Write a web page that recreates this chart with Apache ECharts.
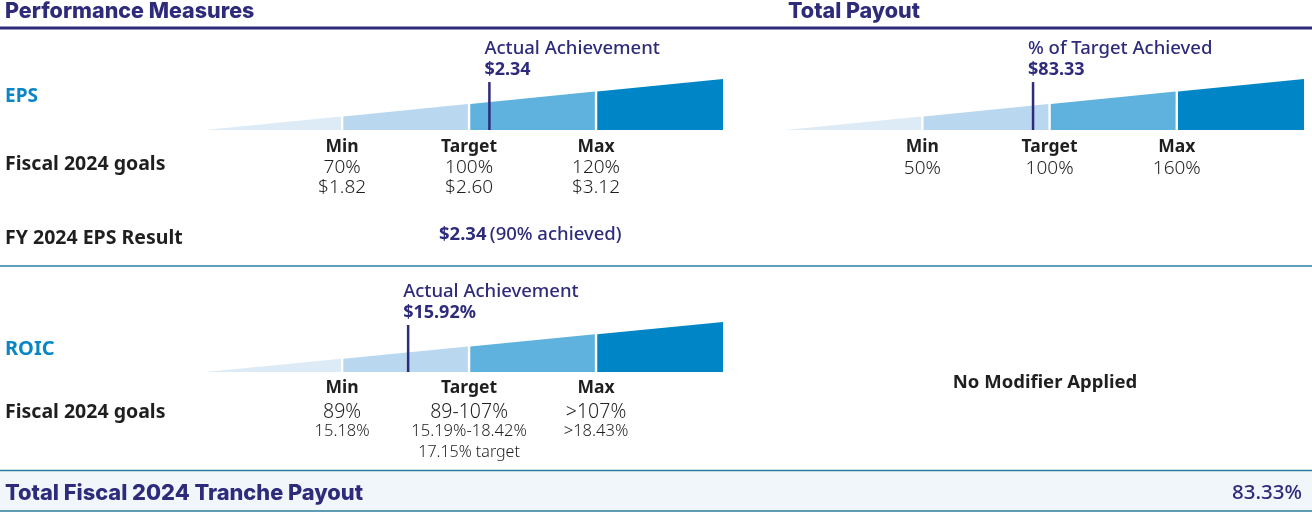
<!DOCTYPE html>
<html>
<head>
<meta charset="utf-8">
<script src="https://cdn.jsdelivr.net/npm/echarts@6/dist/echarts.min.js"></script>
<style>
html, body { margin: 0; padding: 0; background: #fff; }
#chart { width: 1312px; height: 514px; }
</style>
</head>
<body>
<div id="chart"></div>
<script>
// tiers on the scale: Min = 1, Target = 2, Max = 3
const tierNames = ['Min', 'Target', 'Max'];
const tierEdges = [-0.08, 1, 2, 3, 4];

// EPS
const epsPct = ['70%', '100%', '120%'];
const epsValue = ['$1.82', '$2.60', '$3.12'];
const epsActualPos = 2.16;
const epsActualLabel = '$2.34';
const epsResult = '$2.34';
const epsResultNote = '(90% achieved)';

// Total payout
const payoutPct = ['50%', '100%', '160%'];
const payoutActualPos = 1.87;
const payoutActualLabel = '$83.33';

// ROIC
const roicPct = ['89%', '89-107%', '>107%'];
const roicRange = ['15.18%', '15.19%-18.42%', '>18.43%'];
const roicNote = ['', '17.15% target', ''];
const roicActualPos = 1.52;
const roicActualLabel = '$15.92%';

const totalPayout = '83.33%';

const NAVY = '#2E2B7B';
const BLUE = '#0A86C4';
const INK = '#1F1F1F';
const RULE = '#2B7C9E';
const bandColors = ['#DDEBF7', '#B9D8EF', '#5FB1DE', '#0086C6'];
const HEAD = 'Inter';
const BODY = 'Noto Sans';

const chart = echarts.init(document.getElementById('chart'));

function txt(text, x, y, size, weight, color, align, family) {
	return {
		type: 'text',
		style: {
			text: text, x: x, y: y,
			fontSize: size, fontWeight: weight, fontFamily: family || BODY,
			fill: color,
			align: align || 'left', textAlign: align || 'left',
			verticalAlign: 'middle', textVerticalAlign: 'middle'
		}
	};
}

// 楔形分段
function renderBand(params, api) {
	const a = api.value(0), b = api.value(1), i = api.value(2);
	const span = tierEdges[tierEdges.length - 1] - tierEdges[0];
	const ha = (a - tierEdges[0]) / span;
	const hb = (b - tierEdges[0]) / span;
	const p = [api.coord([a, 0]), api.coord([a, ha]), api.coord([b, hb]), api.coord([b, 0])];
	const gl = i > 0 ? 1.2 : 0;
	const gr = i < bandColors.length - 1 ? 1.2 : 0;
	p[0][0] += gl; p[1][0] += gl; p[2][0] -= gr; p[3][0] -= gr;
	return { type: 'polygon', shape: { points: p }, style: { fill: bandColors[i] } };
}

function makeMarker(title, value) {
	return function (params, api) {
		const base = api.coord([api.value(0), 0]);
		const top = api.coord([api.value(0), 0.94]);
		return {
			type: 'group',
			children: [
				{ type: 'line', shape: { x1: base[0], y1: base[1], x2: top[0], y2: top[1] }, style: { stroke: NAVY, lineWidth: 2.5 } },
				txt(title, base[0] - 5, top[1] - 33, 18.5, 500, NAVY),
				txt(value, base[0] - 5, top[1] - 12, 18, 'bold', NAVY)
			]
		};
	};
}

// lines: [array, size, weight, offset]
function makeTierLabels(lines) {
	return function (params, api) {
		const i = api.value(1);
		const pt = api.coord([api.value(0), 0]);
		const children = [];
		lines.forEach(function (l) {
			const t = l[0][i];
			if (t) children.push(txt(t, pt[0], pt[1] + l[3], l[1], l[2], INK, 'center'));
		});
		return { type: 'group', children: children };
	};
}

const bandData = bandColors.map(function (c, i) { return [tierEdges[i], tierEdges[i + 1], i]; });
const tierData = tierNames.map(function (n, i) { return [i + 1, i]; });

const grids = [
	{ left: 205, top: 79, width: 518, height: 51 },
	{ left: 785, top: 79, width: 519, height: 51 },
	{ left: 205, top: 322, width: 518, height: 50 }
];

const option = {
	animation: false,
	grid: grids,
	xAxis: grids.map(function (g, i) { return { gridIndex: i, type: 'value', min: tierEdges[0], max: tierEdges[4], show: false }; }),
	yAxis: grids.map(function (g, i) { return { gridIndex: i, type: 'value', min: 0, max: 1, show: false }; }),
	series: [
		{ type: 'custom', xAxisIndex: 0, yAxisIndex: 0, renderItem: renderBand, data: bandData, silent: true },
		{ type: 'custom', xAxisIndex: 1, yAxisIndex: 1, renderItem: renderBand, data: bandData, silent: true },
		{ type: 'custom', xAxisIndex: 2, yAxisIndex: 2, renderItem: renderBand, data: bandData, silent: true },
		{ type: 'custom', xAxisIndex: 0, yAxisIndex: 0, renderItem: makeMarker('Actual Achievement', epsActualLabel), data: [[epsActualPos]], silent: true, z: 5 },
		{ type: 'custom', xAxisIndex: 1, yAxisIndex: 1, renderItem: makeMarker('% of Target Achieved', payoutActualLabel), data: [[payoutActualPos]], silent: true, z: 5 },
		{ type: 'custom', xAxisIndex: 2, yAxisIndex: 2, renderItem: makeMarker('Actual Achievement', roicActualLabel), data: [[roicActualPos]], silent: true, z: 5 },
		{
			type: 'custom', xAxisIndex: 0, yAxisIndex: 0, data: tierData, silent: true,
			renderItem: makeTierLabels([[tierNames, 17.5, 'bold', 17], [epsPct, 19, 300, 38], [epsValue, 19, 300, 58]])
		},
		{
			type: 'custom', xAxisIndex: 1, yAxisIndex: 1, data: tierData, silent: true,
			renderItem: makeTierLabels([[tierNames, 17.5, 'bold', 17], [payoutPct, 19, 300, 39]])
		},
		{
			type: 'custom', xAxisIndex: 2, yAxisIndex: 2, data: tierData, silent: true,
			renderItem: makeTierLabels([[tierNames, 17.5, 'bold', 16], [roicPct, 19.5, 300, 40], [roicRange, 16.5, 300, 59], [roicNote, 16, 300, 80]])
		}
	],
	graphic: [
		{ type: 'rect', shape: { x: 0, y: 471, width: 1312, height: 40 }, style: { fill: '#F1F6FB' }, z: -1 },
		{ type: 'line', shape: { x1: 0, y1: 28, x2: 1312, y2: 28 }, style: { stroke: NAVY, lineWidth: 3 } },
		{ type: 'line', shape: { x1: 0, y1: 266, x2: 1312, y2: 266 }, style: { stroke: RULE, lineWidth: 1.5 } },
		{ type: 'line', shape: { x1: 0, y1: 470.5, x2: 1312, y2: 470.5 }, style: { stroke: RULE, lineWidth: 1.5 } },
		{ type: 'line', shape: { x1: 0, y1: 511, x2: 1312, y2: 511 }, style: { stroke: RULE, lineWidth: 1.5 } },
		txt('Performance Measures', 5, 12, 21.5, 800, NAVY, 'left', HEAD),
		txt('Total Payout', 788, 12, 21.5, 800, NAVY, 'left', HEAD),
		txt('EPS', 5, 97, 19, 'bold', BLUE),
		txt('Fiscal 2024 goals', 5, 164, 19.5, 'bold', INK),
		txt('FY 2024 EPS Result', 5, 238, 19.5, 'bold', INK),
		{
			type: 'text',
			style: {
				text: '{v|' + epsResult + '} {n|' + epsResultNote + '}',
				x: 439, y: 235, align: 'left', textAlign: 'left', verticalAlign: 'middle', textVerticalAlign: 'middle',
				rich: {
					v: { fontSize: 18.5, fontWeight: 'bold', fontFamily: BODY, fill: NAVY, color: NAVY },
					n: { fontSize: 18.5, fontWeight: 500, fontFamily: BODY, fill: NAVY, color: NAVY }
				}
			}
		},
		txt('ROIC', 5, 349, 20, 'bold', BLUE),
		txt('Fiscal 2024 goals', 5, 412, 19.5, 'bold', INK),
		txt('No Modifier Applied', 1045, 383, 18.5, 'bold', INK, 'center'),
		txt('Total Fiscal 2024 Tranche Payout', 5, 493, 21.8, 800, NAVY, 'left', HEAD),
		txt(totalPayout, 1302, 493, 20.5, 500, NAVY, 'right')
	]
};

chart.setOption(option);
</script>
</body>
</html>
